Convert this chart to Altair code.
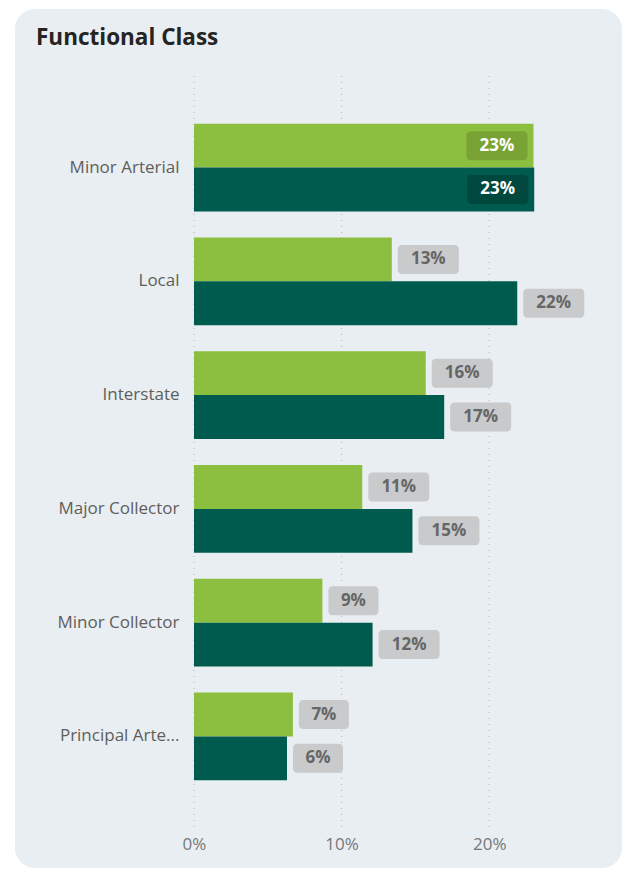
import altair as alt
import pandas as pd

categories = ["Minor Arterial", "Local", "Interstate", "Major Collector",
              "Minor Collector", "Principal Arterial"]
series_names = ["Group A", "Group B"]
values_a = [23.0, 13.4, 15.7, 11.4, 8.7, 6.7]
values_b = [23.05, 21.9, 16.95, 14.8, 12.1, 6.3]
x_ticks = [0, 10, 20]

rows = []
for c, a, b in zip(categories, values_a, values_b):
    rows.append({"category": c, "series": series_names[0], "value": a})
    rows.append({"category": c, "series": series_names[1], "value": b})
df = pd.DataFrame(rows)
ticks_df = pd.DataFrame({"value": x_ticks})

FONT = "Open Sans"
LIGHT = "#8cbf3f"
DARK = "#005b4f"

x_scale = alt.Scale(domain=[0, 25], nice=False, zero=True)
x_axis = alt.Axis(values=x_ticks, labelExpr="datum.value + '%'", grid=False,
                  domain=False, ticks=False, labelFont=FONT, labelFontSize=17,
                  labelColor="#777777", labelPadding=8, labelBaseline="top",
                  labelFlush=False, zindex=1, orient="bottom")
x_enc = alt.X("value:Q", title=None, scale=x_scale, axis=x_axis)
y_enc = alt.Y(
    "category:N",
    title=None,
    sort=categories,
    scale=alt.Scale(paddingInner=0.23, paddingOuter=0.42),
    axis=alt.Axis(domain=False, ticks=False, grid=False, labelFont=FONT,
                  labelFontSize=17, labelColor="#605e5c", labelPadding=15,
                  labelLimit=250, zindex=1,
                  labelExpr="length(datum.label) > 15 ? slice(datum.label, 0, 14) + '...' : datum.label"),
)
yoff = alt.YOffset("series:N", sort=series_names,
                   scale=alt.Scale(paddingInner=0, paddingOuter=0))

base = alt.Chart(df).transform_calculate(
    label="format(round(datum.value), 'd') + '%'",
    inside="datum.value > 22.5 ? 1 : 0",
    ndig="length(format(round(datum.value), 'd'))",
    boxcol="datum.series == 'Group A' ? '#79a335' : '#00473e'",
)

panel = alt.Chart(alt.Data(values=[{"p": 1}])).mark_rect(
    color="#e9eef2", cornerRadius=20
).encode(x=alt.value(-179), x2=alt.value(428), y=alt.value(-67), y2=alt.value(792))

grid = alt.Chart(ticks_df).mark_rule(
    color="#b5b5b5", strokeDash=[1, 5], strokeWidth=1
).encode(x=x_enc)

bars = base.mark_bar().encode(
    x=x_enc, y=y_enc, yOffset=yoff,
    color=alt.Color("series:N", sort=series_names, legend=None,
                    scale=alt.Scale(domain=series_names, range=[LIGHT, DARK])),
)

out2 = base.transform_filter("datum.inside == 0 && datum.ndig == 2")
out1 = base.transform_filter("datum.inside == 0 && datum.ndig == 1")
ins = base.transform_filter("datum.inside == 1")

box_out2 = out2.mark_rect(cornerRadius=4, height=29, xOffset=6, x2Offset=67,
                          color="#c8cacc").encode(
    x=x_enc, x2="value:Q", y=y_enc, yOffset=yoff)
box_out1 = out1.mark_rect(cornerRadius=4, height=29, xOffset=6, x2Offset=56,
                          color="#c8cacc").encode(
    x=x_enc, x2="value:Q", y=y_enc, yOffset=yoff)
box_in = ins.mark_rect(cornerRadius=4, height=29, xOffset=-67, x2Offset=-6).encode(
    x=x_enc, x2="value:Q", y=y_enc, yOffset=yoff,
    color=alt.Color("boxcol:N", scale=None))

txt_style = dict(font=FONT, fontSize=17, fontWeight="bold", baseline="middle",
                 align="center")
t_out2 = out2.mark_text(dx=36.5, color="#666666", **txt_style).encode(
    x=x_enc, y=y_enc, yOffset=yoff, text="label:N")
t_out1 = out1.mark_text(dx=31, color="#666666", **txt_style).encode(
    x=x_enc, y=y_enc, yOffset=yoff, text="label:N")
t_in = ins.mark_text(dx=-36.5, color="#ffffff", **txt_style).encode(
    x=x_enc, y=y_enc, yOffset=yoff, text="label:N")

chart = alt.layer(panel, grid, bars, box_out2, box_out1, box_in,
                  t_out2, t_out1, t_in).properties(
    width=369,
    height=752,
    padding={"left": 186, "top": 68, "right": 60, "bottom": 40},
    autosize=alt.AutoSizeParams(type="none"),
    background="#ffffff",
    title=alt.Title("Functional Class", anchor="start", frame="group", dx=-158,
                    offset=-58, baseline="alphabetic", fontSize=22.5, font=FONT,
                    fontWeight="bold", color="#252423"),
).configure_view(stroke=None)

chart.save("out.html", embed_options={"renderer": "svg", "actions": False})
